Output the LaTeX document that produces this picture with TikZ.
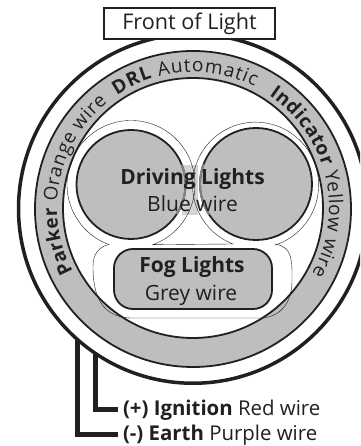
\documentclass[tikz,border=0pt]{standalone}
\usepackage{fontspec}
\setmainfont{Open Sans}
\usetikzlibrary{decorations.text}
\definecolor{inkdark}{HTML}{231F20}
\definecolor{ringgrey}{HTML}{BCBEC0}
\definecolor{gapgrey}{HTML}{D1D3D4}
\definecolor{edgegrey}{HTML}{808285}
\newcommand{\ringbold}{\fontsize{19}{19}\selectfont\bfseries}
\newcommand{\ringplain}{\fontsize{19}{19}\selectfont\mdseries}
\tikzset{
  wheel/.style={draw=inkdark, circle, inner sep=0pt, outer sep=0pt},
  wirelabel/.style={anchor=west, inner sep=0pt, outer sep=5pt, text=inkdark, font=\fontsize{20.4}{20.4}\selectfont},
  lamplabel/.style={anchor=base, inner sep=0pt, text=inkdark, font=\fontsize{21}{21}\selectfont},
  wire/.style={draw=inkdark, line width=5pt, line cap=butt},
  ringtext/.style={decorate, decoration={text along path, text align={fit to path}, text color=inkdark}}
}
\begin{document}
\begin{tikzpicture}[x=1pt, y=1pt]
\clip (0,0) rectangle (360,446);
\fill[white] (0,0) rectangle (360,446);

% Wires
\coordinate (earthtop) at (77,120);
\coordinate (ignitiontop) at (95,105);
\node[wirelabel] (ignition) at (118,36) {\textbf{(+) Ignition} Red wire};
\node[wirelabel] (earth) at (118,11) {\textbf{(-) Earth} Purple wire};
\draw[wire] (ignitiontop) |- (ignition.west);
\draw[wire] (earthtop) |- (earth.west);

% Rings
\node[wheel, fill=white, line width=3.5pt, minimum size=349pt] (outerring) at (193,237.25) {};
\node[wheel, fill=ringgrey, line width=1.8pt, minimum size=316pt] (greyring) at (193,237) {};
\node[wheel, fill=white, line width=1.8pt, minimum size=260pt] (innerring) at (193,238) {};

% Front box
\node[draw=inkdark, fill=white, line width=2pt, minimum width=171pt, minimum height=31pt, inner sep=0pt, text=inkdark, font=\fontsize{21.6}{21.6}\selectfont] (front) at (189.5,422.5) {Front of Light};

% Ring texts
\path[ringtext, decoration={text={|\ringbold|Parker |\ringplain|Orange wire}}]
  (193,238) ++(208:136) arc[start angle=208, end angle=129, radius=136];
\path[ringtext, decoration={text={|\ringbold|DRL |\ringplain|Automatic}}]
  (193,238) ++(124:136) arc[start angle=124, end angle=63, radius=136];
\path[ringtext, decoration={text={|\ringbold|Indicator |\ringplain|Yellow wire}}]
  (193,238) ++(56:136) arc[start angle=56, end angle=-29, radius=136];

% Driving lights
\node[fill=gapgrey, minimum width=16pt, minimum height=50pt, inner sep=0pt] (gap) at (190,256) {};

% Thin outline round the lamps
\draw[inkdark, line width=0.4pt]
  (131,261.5) ++(250:64) arc[start angle=250, end angle=-70, radius=64]
  -- (233,202) arc[start angle=249, end angle=-72, radius=63];
\draw[inkdark, line width=0.4pt]
  (109,201.5) .. controls (98,199) and (93,191) .. (93,180)
  .. controls (93,160) and (96,128) .. (132,128) -- (263,128)
  .. controls (282,130) and (292,145) .. (292,165)
  .. controls (292,185) and (293,199) .. (275,202);

\node[wheel, fill=ringgrey, line width=1.8pt, minimum size=109pt] (drivingleft) at (131,261.5) {};
\node[wheel, fill=ringgrey, line width=1.8pt, minimum size=112pt] (drivingright) at (256,262) {};
\draw[edgegrey, line width=1.9pt] (drivingleft.21) arc[start angle=21, end angle=-33, radius=54.5];
\draw[edgegrey, line width=1.9pt] (drivingright.159) arc[start angle=159, end angle=213, radius=56];
\node[lamplabel] (drivinghead) at (192.5,261) {\textbf{Driving Lights}};
\node[lamplabel] (drivingwire) at (192.5,234) {Blue wire};

% Fog lights
\node[draw=inkdark, fill=ringgrey, line width=1.8pt, rounded corners=19pt, minimum width=158pt, minimum height=60pt, inner sep=0pt] (fog) at (193,167) {};
\node[lamplabel] (foghead) at (192,173) {\textbf{Fog Lights}};
\node[lamplabel] (fogwire) at (191,145) {Grey wire};
\end{tikzpicture}
\end{document}
